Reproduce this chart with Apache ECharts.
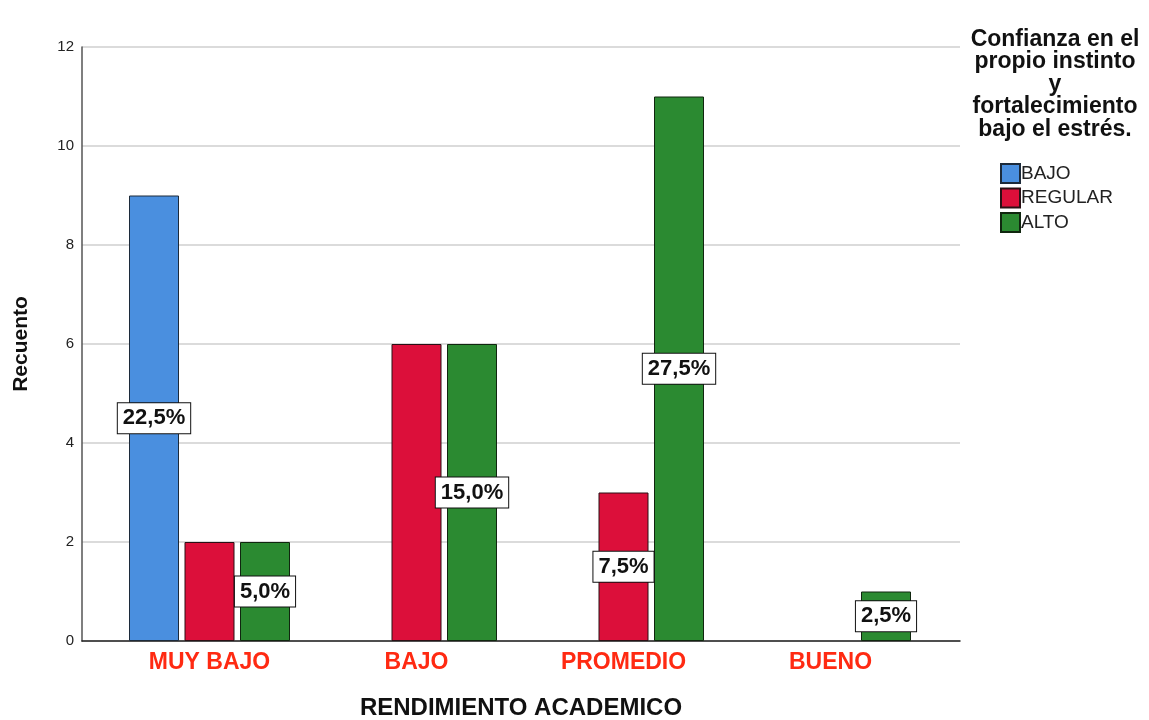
<!DOCTYPE html>
<html>
<head>
<meta charset="UTF-8">
<title>rendimiento academico</title>
<script src="https://cdn.jsdelivr.net/npm/echarts@6/dist/echarts.min.js"></script>
<style>
    body { margin: 0; padding: 0; background: #fff; }
    #chart { width: 1149px; height: 720px; }
</style>
</head>
<body>
<div id="chart"></div>
<script type="text/javascript">
    var categories = ['MUY BAJO', 'BAJO', 'PROMEDIO', 'BUENO'];
    var bajoValues = [9, null, null, null];
    var regularValues = [2, 6, 3, null];
    var altoValues = [2, 6, 11, 1];
    // which bars carry a percent label (same order as the values)
    var bajoLabels = [true, false, false, false];
    var regularLabels = [false, false, true, false];
    var altoLabels = [true, true, true, true];
    var yTicks = [0, 2, 4, 6, 8, 10, 12];

    var total = 0;
    [bajoValues, regularValues, altoValues].forEach(function (arr) {
        arr.forEach(function (v) { if (v) total += v; });
    });

    function pct(v) {
        return (v / total * 100).toFixed(1).replace('.', ',') + '%';
    }

    var labelStyle = {
        show: true,
        position: 'inside',
        formatter: function (p) { return pct(p.value); },
        backgroundColor: '#fff',
        borderColor: '#111',
        borderWidth: 1,
        padding: [5, 5, 3, 5],
        color: '#111',
        fontSize: 22,
        fontWeight: 'bold',
        fontFamily: 'Liberation Sans'
    };

    function build(values, flags) {
        return values.map(function (v, i) {
            return { value: v, label: flags[i] ? labelStyle : { show: false } };
        });
    }

    var chart = echarts.init(document.getElementById('chart'));
    chart.setOption({
        animation: false,
        textStyle: { fontFamily: 'Liberation Sans' },
        grid: [
            { left: 82, right: 189, top: 47, bottom: 79, containLabel: false, outerBoundsMode: 'none' },
            { left: 106, right: 215, top: 47, bottom: 79, containLabel: false, outerBoundsMode: 'none' }
        ],
        xAxis: [
            {
                type: 'value', gridIndex: 0, min: 0, max: 1,
                axisLine: { show: true, lineStyle: { color: '#222', width: 1.5 } },
                axisTick: { show: false }, axisLabel: { show: false }, splitLine: { show: false },
                name: 'RENDIMIENTO ACADEMICO', nameLocation: 'middle', nameGap: 55,
                nameTextStyle: { color: '#111', fontSize: 24, fontWeight: 'bold', fontFamily: 'Liberation Sans' }
            },
            {
                type: 'category', gridIndex: 1, data: categories,
                axisLine: { show: false }, axisTick: { show: false },
                axisLabel: { color: '#ff2a12', fontSize: 23, fontWeight: 'bold', margin: 10 }
            }
        ],
        yAxis: [
            {
                type: 'value', gridIndex: 0, min: yTicks[0], max: yTicks[yTicks.length - 1], interval: 2,
                axisLine: { show: true, lineStyle: { color: '#555', width: 1.5 } },
                axisTick: { show: false },
                axisLabel: { color: '#222', fontSize: 15, margin: 8 },
                splitLine: { show: true, lineStyle: { color: '#cfcfcf', width: 1.5 } },
                name: 'Recuento', nameLocation: 'middle', nameGap: 50, nameRotate: 90,
                nameTextStyle: { color: '#111', fontSize: 21, fontWeight: 'bold' }
            },
            {
                type: 'value', gridIndex: 1, min: 0, max: 12, show: false
            }
        ],
        legend: {
            orient: 'vertical', left: 995, top: 158,
            itemWidth: 19, itemHeight: 19, itemGap: 3.5, icon: 'rect',
            textStyle: { color: '#222', fontSize: 19, padding: [0, 0, 0, -4] },
            data: ['BAJO', 'REGULAR', 'ALTO']
        },
        graphic: [{
            type: 'text', x: 1055, y: 28,
            style: {
                text: 'Confianza en el\npropio instinto\ny\nfortalecimiento\nbajo el estrés.',
                textAlign: 'center',
                font: 'bold 23px "Liberation Sans"', lineHeight: 22.5, fill: '#111'
            }
        }],
        series: [
            {
                name: 'BAJO', type: 'bar', xAxisIndex: 1, yAxisIndex: 1,
                barWidth: 50, barGap: '11%',
                itemStyle: { color: '#4a8fdf', borderColor: '#1c2a3a', borderWidth: 1 },
                data: build(bajoValues, bajoLabels)
            },
            {
                name: 'REGULAR', type: 'bar', xAxisIndex: 1, yAxisIndex: 1,
                barWidth: 50, barGap: '11%',
                itemStyle: { color: '#dc0f3a', borderColor: '#2a1015', borderWidth: 1 },
                data: build(regularValues, regularLabels)
            },
            {
                name: 'ALTO', type: 'bar', xAxisIndex: 1, yAxisIndex: 1,
                barWidth: 50, barGap: '11%',
                itemStyle: { color: '#2b8a31', borderColor: '#10260f', borderWidth: 1 },
                data: build(altoValues, altoLabels)
            }
        ]
    });
</script>
</body>
</html>
